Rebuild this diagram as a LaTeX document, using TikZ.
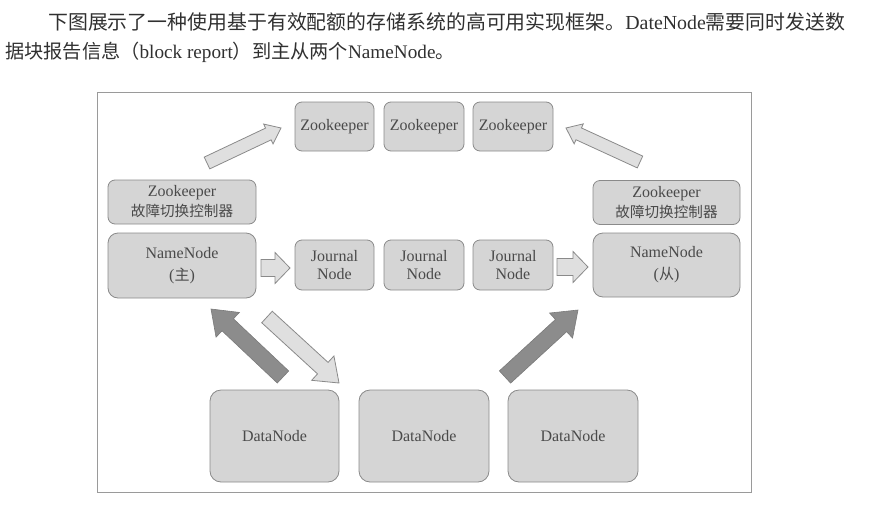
\documentclass[tikz,border=0pt]{standalone}
\usepackage{fontspec}
\setmainfont{Liberation Serif}
\newfontfamily\cjk{Noto Sans CJK SC}
\usetikzlibrary{calc}
\definecolor{boxfill}{HTML}{D5D5D5}
\definecolor{boxline}{HTML}{8A8A8A}
\definecolor{txt}{HTML}{4A4A4A}
\definecolor{hdr}{HTML}{303030}
\definecolor{darkarr}{HTML}{8C8C8C}
\definecolor{darkarrline}{HTML}{7A7A7A}
\definecolor{lightarr}{HTML}{DFDFDF}
\definecolor{framec}{HTML}{9A9A9A}
% #1 style, #2 tail, #3 tip, #4 shaft half width, #5 head half width, #6 head length
\newcommand{\blockarrow}[6]{%
  \coordinate (tmpH) at ($(#3)!#6!(#2)$);
  \path[#1] ($(#2)!#4!90:(#3)$) -- ($(tmpH)!#4!90:(#3)$) -- ($(tmpH)!#5!90:(#3)$)
     -- (#3) -- ($(tmpH)!#5!-90:(#3)$) -- ($(tmpH)!#4!-90:(#3)$) -- ($(#2)!#4!-90:(#3)$) -- cycle;
}
\begin{document}
\begin{tikzpicture}[x=1pt,y=-1pt,
  box/.style={draw=boxline, fill=boxfill, line width=0.8pt, rounded corners=7pt,
    text=txt, align=center, inner sep=0pt, font=\fontsize{16}{19}\selectfont},
  bigbox/.style={box, rounded corners=10pt},
  darkblock/.style={fill=darkarr, draw=darkarrline, line width=0.6pt, line join=miter},
  lightblock/.style={fill=lightarr, draw=boxline, line width=0.8pt, line join=miter},
  hdrtext/.style={anchor=base west, inner sep=0pt, text=hdr, font=\fontsize{19.5}{24}\selectfont}
]
\useasboundingbox (0,0) rectangle (880,506);

% header text
\node[hdrtext, font=\fontsize{19.9}{24}\selectfont] (h1) at (48,29) {{\cjk 下图展示了一种使用基于有效配额的存储系统的高可用实现框架。}DateNode{\cjk 需要同时发送数}};
\node[hdrtext, font=\fontsize{19.2}{24}\selectfont] (h2) at (5,58) {{\cjk 据块报告信息（}block report{\cjk ）到主从两个}NameNode{\cjk 。}};

% outer frame
\node[draw=framec, line width=0.8pt, minimum width=654pt, minimum height=400pt, inner sep=0pt] (frame) at (424,292) {};

% Zookeeper row
\node[box, minimum width=79pt, minimum height=49pt] (zk1) at (334.5,126.5) {Zookeeper};
\node[box, minimum width=80pt, minimum height=49pt] (zk2) at (424,126.5) {Zookeeper};
\node[box, minimum width=80pt, minimum height=49pt] (zk3) at (513,126.5) {Zookeeper};

% controllers
\node[box, minimum width=148pt, minimum height=44pt, font=\fontsize{16}{20}\selectfont] (ctrlL) at (182,202)
  {Zookeeper\\{\fontsize{14.6}{20}\selectfont\cjk 故障切换控制器}};
\node[box, minimum width=147pt, minimum height=44pt, font=\fontsize{16}{20}\selectfont] (ctrlR) at (666.5,202.5)
  {Zookeeper\\{\fontsize{14.6}{20}\selectfont\cjk 故障切换控制器}};

% NameNodes
\node[bigbox, minimum width=148pt, minimum height=65pt, font=\fontsize{16}{22}\selectfont] (nnL) at (182,265.5)
  {NameNode\\({\fontsize{15}{22}\selectfont\cjk 主})};
\node[bigbox, minimum width=147pt, minimum height=64pt, font=\fontsize{16}{22}\selectfont] (nnR) at (666.5,265)
  {NameNode\\({\fontsize{15}{22}\selectfont\cjk 从})};

% Journal nodes
\node[box, minimum width=79pt, minimum height=50pt, font=\fontsize{16}{17.5}\selectfont] (jn1) at (334.5,265) {Journal\\Node};
\node[box, minimum width=80pt, minimum height=50pt, font=\fontsize{16}{17.5}\selectfont] (jn2) at (424,265) {Journal\\Node};
\node[box, minimum width=80pt, minimum height=50pt, font=\fontsize{16}{17.5}\selectfont] (jn3) at (513,265) {Journal\\Node};

% DataNodes
\node[bigbox, rounded corners=11pt, minimum width=129pt, minimum height=92pt] (dn1) at (274.5,436) {DataNode};
\node[bigbox, rounded corners=11pt, minimum width=130pt, minimum height=92pt] (dn2) at (424,436) {DataNode};
\node[bigbox, rounded corners=11pt, minimum width=130pt, minimum height=92pt] (dn3) at (573,436) {DataNode};

% arrow end points
\coordinate (aZLt) at (207,163); \coordinate (aZLh) at (281,128);
\coordinate (aZRt) at (640,162); \coordinate (aZRh) at (566,128);
\coordinate (aJLt) at (261,268); \coordinate (aJLh) at (290,268);
\coordinate (aJRt) at (557,267); \coordinate (aJRh) at (588,267);
\coordinate (aD1t) at (283,377); \coordinate (aD1h) at (211,309);
\coordinate (aD2t) at (267,317); \coordinate (aD2h) at (339,383);
\coordinate (aD3t) at (505,377); \coordinate (aD3h) at (578,310);

% block arrows
\blockarrow{lightblock}{aZLt}{aZLh}{6.5pt}{11pt}{14pt}
\blockarrow{lightblock}{aZRt}{aZRh}{6.5pt}{11pt}{14pt}
\blockarrow{lightblock}{aJLt}{aJLh}{8.5pt}{15.5pt}{15pt}
\blockarrow{lightblock}{aJRt}{aJRh}{8.5pt}{15.5pt}{15pt}
\blockarrow{darkblock}{aD1t}{aD1h}{8.3pt}{17pt}{23pt}
\blockarrow{lightblock}{aD2t}{aD2h}{7.8pt}{16.5pt}{22pt}
\blockarrow{darkblock}{aD3t}{aD3h}{8.3pt}{17pt}{23pt}
\end{tikzpicture}
\end{document}
